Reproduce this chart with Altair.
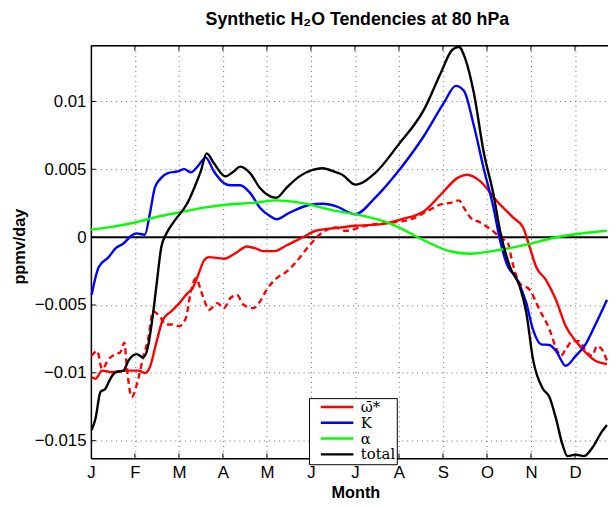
import altair as alt
import pandas as pd

TITLE = "Synthetic H₂O Tendencies at 80 hPa"
MONTH_LETTERS = ["J", "F", "M", "A", "M", "J", "J", "A", "S", "O", "N", "D"]
MONTH_TICKS = list(range(12))
Y_TICKS = [-0.015, -0.01, -0.005, 0, 0.005, 0.01]
SERIES = ["ω̄*", "K", "α", "total"]
COLORS = ["#ff0000", "#0000ff", "#00ff00", "#000000"]

# omega-bar-star (solid red)
OMEGA_M = [0.016, 0.105, 0.253, 0.478, 0.778, 1.076, 1.226, 1.339, 1.487, 1.637, 1.823, 2.011, 2.197, 2.309,
           2.422, 2.572, 2.684, 3.020, 3.318, 3.543, 3.767, 3.917, 4.177, 4.439, 4.814, 5.112, 5.561, 6.009,
           6.608, 7.056, 7.578, 7.953, 8.325, 8.549, 8.850, 9.222, 9.596, 9.821, 9.971, 10.119, 10.343, 10.567,
           10.791, 11.016, 11.240, 11.464, 11.726]
OMEGA_V = [-0.01032, -0.01044, -0.00984, -0.00996, -0.00984, -0.00984, -0.01001, -0.00959, -0.00777, -0.00608,
           -0.00547, -0.00486, -0.00413, -0.00377, -0.00293, -0.00171, -0.00147, -0.00159, -0.00111, -0.00069,
           -0.00086, -0.00103, -0.00103, -0.00062, -0.00001, 0.00047, 0.00067, 0.00084, 0.00096, 0.00132,
           0.00193, 0.00314, 0.00435, 0.00460, 0.00411, 0.00266, 0.00144, 0.00071, -0.00074, -0.00220,
           -0.00317, -0.00462, -0.00656, -0.00766, -0.00850, -0.00911, -0.00935]

# K (blue)
K_M = [0.016, 0.179, 0.404, 0.554, 0.740, 0.919, 1.031, 1.226, 1.339, 1.451, 1.592, 1.749, 1.973, 2.123, 2.271,
       2.422, 2.608, 2.796, 3.020, 3.168, 3.392, 3.617, 3.841, 4.065, 4.215, 4.513, 4.962, 5.262, 5.561, 6.009,
       6.457, 6.980, 7.578, 8.027, 8.289, 8.475, 8.700, 8.924, 9.148, 9.298, 9.446, 9.670, 9.895, 10.045,
       10.231, 10.419, 10.567, 10.791, 11.016, 11.240, 11.464, 11.726]
K_V = [-0.00426, -0.00220, -0.00147, -0.00084, -0.00047, 0.00011, 0.00028, 0.00018, 0.00171, 0.00362, 0.00435,
       0.00472, 0.00484, 0.00501, 0.00477, 0.00520, 0.00586, 0.00484, 0.00399, 0.00382, 0.00382, 0.00326,
       0.00217, 0.00156, 0.00132, 0.00180, 0.00237, 0.00246, 0.00229, 0.00169, 0.00290, 0.00484, 0.00751,
       0.00993, 0.01115, 0.01079, 0.00824, 0.00508, 0.00217, -0.00025, -0.00195, -0.00304, -0.00486, -0.00680,
       -0.00790, -0.00795, -0.00838, -0.00948, -0.00875, -0.00790, -0.00644, -0.00462]

# alpha (green)
ALPHA_M = [0.0, 0.478, 1.002, 1.525, 1.973, 2.572, 3.168, 3.693, 4.215, 4.664, 5.112, 5.561, 6.009, 6.832, 7.578,
           8.177, 8.626, 9.298, 9.971, 10.567, 11.166, 11.726]
ALPHA_V = [0.00055, 0.00076, 0.00108, 0.00151, 0.00180, 0.00217, 0.00242, 0.00253, 0.00271, 0.00258, 0.00229,
           0.00193, 0.00169, 0.00096, -0.00025, -0.00106, -0.00122, -0.00093, -0.00049, -0.00001, 0.00028,
           0.00047]

# total (black)
TOTAL_M = [0.016, 0.105, 0.217, 0.330, 0.442, 0.554, 0.740, 0.852, 1.038, 1.188, 1.300, 1.374, 1.487, 1.599,
           1.711, 1.899, 2.197, 2.348, 2.496, 2.630, 2.796, 3.056, 3.244, 3.392, 3.617, 3.841, 4.065, 4.215,
           4.439, 4.738, 5.038, 5.262, 5.561, 5.711, 6.009, 6.457, 6.980, 7.578, 7.953, 8.213, 8.363, 8.513,
           8.700, 8.924, 9.148, 9.298, 9.522, 9.747, 9.895, 10.045, 10.269, 10.419, 10.567, 10.717, 10.830,
           11.016, 11.204, 11.390, 11.614, 11.726]
TOTAL_V = [-0.01421, -0.01336, -0.01141, -0.01117, -0.01044, -0.00996, -0.00984, -0.00911, -0.00862, -0.00886,
           -0.00802, -0.00656, -0.00365, -0.00074, 0.00023, 0.00120, 0.00253, 0.00362, 0.00484, 0.00617,
           0.00544, 0.00448, 0.00484, 0.00520, 0.00472, 0.00362, 0.00302, 0.00290, 0.00362, 0.00448, 0.00496,
           0.00508, 0.00479, 0.00460, 0.00387, 0.00472, 0.00678, 0.00945, 0.01212, 0.01381, 0.01401, 0.01309,
           0.01066, 0.00630, 0.00314, 0.00047, -0.00220, -0.00365, -0.00559, -0.00899, -0.01117, -0.01178,
           -0.01336, -0.01530, -0.01614, -0.01603, -0.01614, -0.01554, -0.01432, -0.01384]

# dashed red (no legend entry)
DASH_M = [0.016, 0.141, 0.253, 0.404, 0.554, 0.666, 0.762, 0.814, 0.926, 1.076, 1.188, 1.300, 1.413, 1.563,
          1.711, 1.861, 2.011, 2.159, 2.271, 2.383, 2.534, 2.684, 2.870, 3.020, 3.168, 3.318, 3.469, 3.693,
          3.841, 3.991, 4.215, 4.439, 4.664, 4.962, 5.262, 5.561, 5.785, 6.233, 6.832, 7.280, 7.652, 7.953,
          8.177, 8.363, 8.475, 8.626, 8.850, 9.074, 9.298, 9.484, 9.558, 9.747, 9.971, 10.195, 10.419, 10.567,
          10.680, 10.791, 10.942, 11.092, 11.240, 11.390, 11.502, 11.652, 11.726]
DASH_V = [-0.00875, -0.00838, -0.00972, -0.00899, -0.00862, -0.00850, -0.00777, -0.00948, -0.01178, -0.01044,
          -0.00886, -0.00753, -0.00547, -0.00584, -0.00644, -0.00644, -0.00656, -0.00595, -0.00402, -0.00304,
          -0.00426, -0.00535, -0.00486, -0.00523, -0.00450, -0.00426, -0.00499, -0.00523, -0.00475, -0.00389,
          -0.00304, -0.00256, -0.00183, -0.00062, 0.00035, 0.00071, 0.00047, 0.00084, 0.00108, 0.00132,
          0.00193, 0.00242, 0.00253, 0.00271, 0.00217, 0.00144, 0.00108, 0.00060, -0.00001, -0.00049,
          -0.00159, -0.00341, -0.00389, -0.00535, -0.00680, -0.00814, -0.00875, -0.00826, -0.00766, -0.00766,
          -0.00838, -0.00875, -0.00802, -0.00850, -0.00911]

W, H = 524, 418

frames = []
for name, ms, vs in [(SERIES[0], OMEGA_M, OMEGA_V), (SERIES[1], K_M, K_V),
                     (SERIES[2], ALPHA_M, ALPHA_V), (SERIES[3], TOTAL_M, TOTAL_V)]:
    frames.append(pd.DataFrame({"m": ms, "v": vs, "series": name}))
lines_df = pd.concat(frames, ignore_index=True)
lines_df["order"] = range(len(lines_df))
dash_df = pd.DataFrame({"m": DASH_M, "v": DASH_V})

FONT = "Liberation Sans"
month_expr = "[" + ",".join("'%s'" % s for s in MONTH_LETTERS) + "][datum.value]"

x_scale = alt.Scale(domain=[0, 11.75], nice=False, zero=False)
y_scale = alt.Scale(domain=[-0.0163, 0.0141], nice=False, zero=False)

x_axis = alt.Axis(values=MONTH_TICKS, labelExpr=month_expr, title="Month", ticks=False,
                  grid=True, gridDash=[1, 4], gridColor="#666", gridWidth=1,
                  domainColor="black", domainWidth=1.5, labelFlush=False, labelOverlap=False,
                  labelFont=FONT, labelFontSize=17, labelColor="black", labelPadding=6,
                  titleFont=FONT, titleFontSize=16.5, titleFontWeight="bold", titleColor="black",
                  titleX=268, titleY=40, titleBaseline="alphabetic")
y_axis = alt.Axis(values=Y_TICKS, format=".3~f", title="ppmv/day", ticks=False,
                  grid=True, gridDash=[1, 4], gridColor="#666", gridWidth=1,
                  domainColor="black", domainWidth=1.5, labelOverlap=False, labelFlush=False,
                  labelFont=FONT, labelFontSize=17, labelColor="black", labelPadding=5,
                  titleFont=FONT, titleFontSize=16.5, titleFontWeight="bold", titleColor="black",
                  titleX=-67, titleY=203, titleAngle=270, titleAlign="center", titleBaseline="alphabetic")

X = alt.X("m:Q", scale=x_scale, axis=x_axis)
Y = alt.Y("v:Q", scale=y_scale, axis=y_axis)

zero = alt.Chart(pd.DataFrame({"v": [0.0]})).mark_rule(color="black", strokeWidth=2).encode(y=Y)

dashed = alt.Chart(dash_df).mark_line(color="#ff0000", strokeWidth=2.4, strokeDash=[6, 4],
                                      interpolate="monotone").encode(x=X, y=Y)

solid = alt.Chart(lines_df).mark_line(strokeWidth=2.4, interpolate="monotone").encode(
    x=X, y=Y, order="order:Q",
    color=alt.Color("series:N", sort=SERIES,
                    scale=alt.Scale(domain=SERIES, range=COLORS),
                    legend=alt.Legend(title=None, orient="none", legendX=221, legendY=357,
                                      symbolType="M1.5,0H18", symbolSize=16, symbolStrokeWidth=2.5,
                                      symbolFillColor="transparent",
                                      labelFont="DejaVu Serif", labelFontSize=15, labelColor="black",
                                      labelOffset=36, rowPadding=-1.6, padding=1.5,
                                      strokeColor="black", fillColor="white", symbolOpacity=1)))

tick_df = pd.DataFrame({"m": MONTH_TICKS[1:]})
ytick_df = pd.DataFrame({"v": Y_TICKS})
xticks_bottom = alt.Chart(tick_df).mark_rule(color="black", strokeWidth=1).encode(
    x=X, y=alt.value(H), y2=alt.value(H - 5))
xticks_top = alt.Chart(tick_df).mark_rule(color="black", strokeWidth=1).encode(
    x=X, y=alt.value(0), y2=alt.value(5))
yticks = alt.Chart(ytick_df).mark_rule(color="black", strokeWidth=1).encode(
    y=Y, x=alt.value(0), x2=alt.value(5))
top_border = alt.Chart(pd.DataFrame({"a": [0]})).mark_rule(color="black", strokeWidth=1.5).encode(
    x=alt.value(0), x2=alt.value(W), y=alt.value(0))

title = alt.Chart(pd.DataFrame({"t": [TITLE]})).mark_text(
    font=FONT, fontSize=18, fontWeight="bold", color="black", align="center", baseline="alphabetic"
).encode(text="t:N", x=alt.value(270), y=alt.value(-21))

chart = alt.layer(zero, dashed, solid, xticks_bottom, xticks_top, yticks, top_border, title).properties(
    width=W, height=H,
    padding={"left": 84, "top": 35, "right": 0, "bottom": 45},
    autosize=alt.AutoSizeParams(type="none"),
).configure_view(stroke="transparent").configure(background="white")

chart.save("out.html", embed_options={"renderer": "svg", "actions": False})
